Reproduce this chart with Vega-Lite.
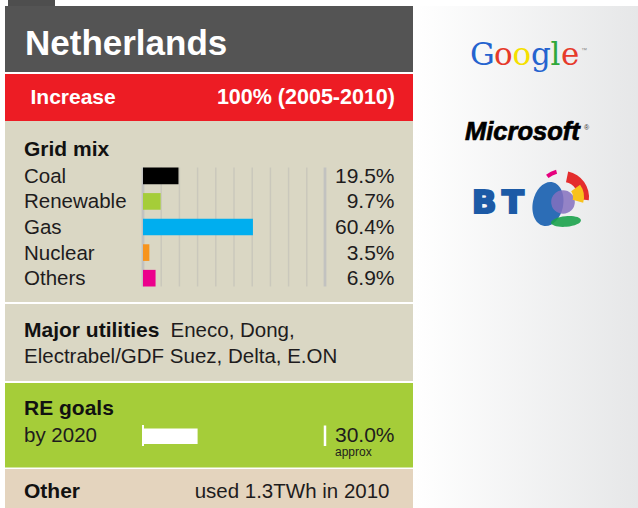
{
  "$schema": "https://vega.github.io/schema/vega-lite/v6.json",
  "width": 638,
  "height": 508,
  "autosize": {"type": "fit", "contains": "padding"},
  "padding": 0,
  "background": "white",
  "config": {"view": {"stroke": null}, "text": {"font": "Liberation Sans", "color": "#1E1C1D", "align": "left", "baseline": "alphabetic", "fontSize": 20.5}},
  "datasets": {
    "mix": [
      {"source": "Coal", "share": 0.195},
      {"source": "Renewable", "share": 0.097},
      {"source": "Gas", "share": 0.604},
      {"source": "Nuclear", "share": 0.035},
      {"source": "Others", "share": 0.069}
    ],
    "ticks": [
      {"tick": 0}, {"tick": 0.1}, {"tick": 0.2}, {"tick": 0.3}, {"tick": 0.4}, {"tick": 0.5},
      {"tick": 0.6}, {"tick": 0.7}, {"tick": 0.8}, {"tick": 0.9}, {"tick": 1}
    ],
    "goal": [{"target": "by 2020", "share": 0.30}],
    "one": [{}]
  },
  "layer": [
    {"data": {"name": "one"}, "mark": {"type": "rect", "color": {"gradient": "linear", "x1": 0, "x2": 1, "y1": 0, "y2": 0, "stops": [{"offset": 0, "color": "#FFFFFF"}, {"offset": 1, "color": "#E6E7E8"}]}},
     "encoding": {"x": {"value": 413}, "x2": {"value": 638}, "y": {"value": 6}, "y2": {"value": 508}}},
    {"data": {"name": "one"}, "mark": {"type": "rect", "color": "#4E4E4E"},
     "encoding": {"x": {"value": 8}, "x2": {"value": 55}, "y": {"value": 0}, "y2": {"value": 6}}},
    {"data": {"name": "one"}, "mark": {"type": "rect", "color": "#545454"},
     "encoding": {"x": {"value": 5}, "x2": {"value": 413}, "y": {"value": 6}, "y2": {"value": 72}}},
    {"data": {"name": "one"}, "mark": {"type": "rect", "color": "#ED1C24"},
     "encoding": {"x": {"value": 5}, "x2": {"value": 413}, "y": {"value": 74}, "y2": {"value": 121}}},
    {"data": {"name": "one"}, "mark": {"type": "rect", "color": "#DAD7C4"},
     "encoding": {"x": {"value": 5}, "x2": {"value": 413}, "y": {"value": 121}, "y2": {"value": 302}}},
    {"data": {"name": "one"}, "mark": {"type": "rect", "color": "#DAD7C4"},
     "encoding": {"x": {"value": 5}, "x2": {"value": 413}, "y": {"value": 304}, "y2": {"value": 381}}},
    {"data": {"name": "one"}, "mark": {"type": "rect", "color": "#A5CD39"},
     "encoding": {"x": {"value": 5}, "x2": {"value": 413}, "y": {"value": 383}, "y2": {"value": 467.5}}},
    {"data": {"name": "one"}, "mark": {"type": "rect", "color": "#E4D4BE"},
     "encoding": {"x": {"value": 5}, "x2": {"value": 413}, "y": {"value": 469}, "y2": {"value": 508}}},

    {"data": {"name": "ticks"}, "mark": {"type": "rule"},
     "encoding": {
       "x": {"field": "tick", "type": "quantitative", "scale": {"domain": [0, 1], "range": [143, 325], "padding": 0, "nice": false, "zero": true}, "axis": null},
       "y": {"value": 167.5}, "y2": {"value": 286.5},
       "strokeWidth": {"condition": {"test": "datum.tick == 0 || datum.tick == 1", "value": 2.8}, "value": 1.5},
       "color": {"condition": {"test": "datum.tick == 0 || datum.tick == 1", "value": "#C2C2C0"}, "value": "#CAC8BC"}
     }},
    {"data": {"name": "mix"}, "mark": {"type": "bar"},
     "encoding": {
       "x": {"field": "share", "type": "quantitative", "axis": null},
       "y": {"field": "source", "type": "nominal", "scale": {"domain": ["Coal", "Renewable", "Gas", "Nuclear", "Others"], "range": [167.5, 286.5], "paddingInner": 0.35, "paddingOuter": 0}, "axis": null},
       "color": {"field": "source", "type": "nominal", "scale": {"domain": ["Coal", "Renewable", "Gas", "Nuclear", "Others"], "range": ["#000000", "#A5CD39", "#00AEEF", "#F7941D", "#EC008C"]}, "legend": null}
     }},
    {"data": {"name": "mix"}, "mark": {"type": "text", "dy": 7},
     "encoding": {
       "x": {"value": 24},
       "y": {"field": "source", "type": "nominal", "axis": null},
       "text": {"field": "source", "type": "nominal"}
     }},
    {"data": {"name": "mix"}, "mark": {"type": "text", "dy": 7, "align": "right", "fontSize": 21},
     "encoding": {
       "x": {"value": 394.5},
       "y": {"field": "source", "type": "nominal", "axis": null},
       "text": {"field": "share", "type": "quantitative", "format": ".1%"}
     }},

    {"data": {"name": "goal"}, "mark": {"type": "bar", "color": "white"},
     "encoding": {
       "x": {"field": "share", "type": "quantitative", "axis": null},
       "x2": {"datum": 0},
       "y": {"value": 428.5}, "y2": {"value": 444}
     }},
    {"data": {"name": "one"}, "mark": {"type": "rule", "color": "white", "strokeWidth": 2},
     "encoding": {"x": {"datum": 0, "type": "quantitative"}, "y": {"value": 425}, "y2": {"value": 446}}},
    {"data": {"name": "one"}, "mark": {"type": "rule", "color": "white", "strokeWidth": 2.5},
     "encoding": {"x": {"datum": 1, "type": "quantitative"}, "y": {"value": 425.5}, "y2": {"value": 446}}},
    {"data": {"name": "goal"}, "mark": {"type": "text"},
     "encoding": {"x": {"value": 24}, "y": {"value": 441.5}, "text": {"field": "target", "type": "nominal"}}},
    {"data": {"name": "goal"}, "mark": {"type": "text", "align": "right", "fontSize": 21},
     "encoding": {"x": {"value": 394.5}, "y": {"value": 441.5}, "text": {"field": "share", "type": "quantitative", "format": ".1%"}}},

    {"data": {"name": "one"}, "mark": {"type": "text", "text": "Netherlands", "fontSize": 35, "fontWeight": "bold", "color": "white"},
     "encoding": {"x": {"value": 25}, "y": {"value": 55}}},
    {"data": {"name": "one"}, "mark": {"type": "text", "text": "Increase", "fontSize": 21, "fontWeight": "bold", "color": "white"},
     "encoding": {"x": {"value": 30.5}, "y": {"value": 103.5}}},
    {"data": {"name": "one"}, "mark": {"type": "text", "text": "100% (2005-2010)", "fontSize": 21.5, "fontWeight": "bold", "color": "white", "align": "right"},
     "encoding": {"x": {"value": 395}, "y": {"value": 103.5}}},
    {"data": {"name": "one"}, "mark": {"type": "text", "text": "Grid mix", "fontSize": 21, "fontWeight": "bold", "color": "#111111"},
     "encoding": {"x": {"value": 24}, "y": {"value": 155.5}}},
    {"data": {"name": "one"}, "mark": {"type": "text", "text": "Major utilities", "fontSize": 21, "fontWeight": "bold", "color": "#111111"},
     "encoding": {"x": {"value": 24}, "y": {"value": 336.5}}},
    {"data": {"name": "one"}, "mark": {"type": "text", "text": "Eneco, Dong,"},
     "encoding": {"x": {"value": 170.5}, "y": {"value": 336.5}}},
    {"data": {"name": "one"}, "mark": {"type": "text", "text": "Electrabel/GDF Suez, Delta, E.ON"},
     "encoding": {"x": {"value": 24}, "y": {"value": 363}}},
    {"data": {"name": "one"}, "mark": {"type": "text", "text": "RE goals", "fontSize": 21, "fontWeight": "bold", "color": "#111111"},
     "encoding": {"x": {"value": 24}, "y": {"value": 415}}},
    {"data": {"name": "one"}, "mark": {"type": "text", "text": "approx", "fontSize": 12},
     "encoding": {"x": {"value": 335}, "y": {"value": 456}}},
    {"data": {"name": "one"}, "mark": {"type": "text", "text": "Other", "fontSize": 21, "fontWeight": "bold", "color": "#111111"},
     "encoding": {"x": {"value": 24}, "y": {"value": 498}}},
    {"data": {"name": "one"}, "mark": {"type": "text", "text": "used 1.3TWh in 2010", "align": "right"},
     "encoding": {"x": {"value": 389.5}, "y": {"value": 498}}},

    {"data": {"name": "one"}, "mark": {"type": "text", "text": "G", "font": "DejaVu Serif", "fontSize": 31, "color": "#2463CF"},
     "encoding": {"x": {"value": 470}, "y": {"value": 65}}},
    {"data": {"name": "one"}, "mark": {"type": "text", "text": "o", "font": "DejaVu Serif", "fontSize": 31, "color": "#E63A2A"},
     "encoding": {"x": {"value": 494}, "y": {"value": 65}}},
    {"data": {"name": "one"}, "mark": {"type": "text", "text": "o", "font": "DejaVu Serif", "fontSize": 31, "color": "#F5E000"},
     "encoding": {"x": {"value": 512.5}, "y": {"value": 65}}},
    {"data": {"name": "one"}, "mark": {"type": "text", "text": "g", "font": "DejaVu Serif", "fontSize": 31, "color": "#2463CF"},
     "encoding": {"x": {"value": 531}, "y": {"value": 65}}},
    {"data": {"name": "one"}, "mark": {"type": "text", "text": "l", "font": "DejaVu Serif", "fontSize": 31, "color": "#2FA83B"},
     "encoding": {"x": {"value": 550.5}, "y": {"value": 65}}},
    {"data": {"name": "one"}, "mark": {"type": "text", "text": "e", "font": "DejaVu Serif", "fontSize": 31, "color": "#E63A2A"},
     "encoding": {"x": {"value": 561}, "y": {"value": 65}}},
    {"data": {"name": "one"}, "mark": {"type": "text", "text": "™", "fontSize": 6, "color": "#888888"},
     "encoding": {"x": {"value": 581}, "y": {"value": 52}}},
    {"data": {"name": "one"}, "mark": {"type": "text", "text": "Microsoft", "fontSize": 25.5, "fontWeight": "bold", "fontStyle": "italic", "color": "#000000", "stroke": "#000000", "strokeWidth": 0.7},
     "encoding": {"x": {"value": 465}, "y": {"value": 140}}},
    {"data": {"name": "one"}, "mark": {"type": "text", "text": "®", "fontSize": 7, "color": "#333333"},
     "encoding": {"x": {"value": 584}, "y": {"value": 130}}},
    {"data": {"name": "one"}, "mark": {"type": "text", "text": "B", "font": "DejaVu Sans", "fontSize": 32, "fontWeight": "bold", "color": "#1C5AA6", "stroke": "#1C5AA6", "strokeWidth": 2.2},
     "encoding": {"x": {"value": 472}, "y": {"value": 213}}},
    {"data": {"name": "one"}, "mark": {"type": "text", "text": "T", "font": "DejaVu Sans", "fontSize": 32, "fontWeight": "bold", "color": "#1C5AA6", "stroke": "#1C5AA6", "strokeWidth": 2.2},
     "encoding": {"x": {"value": 502}, "y": {"value": 213}}},
    {"data": {"name": "one"}, "mark": {"type": "point", "filled": true, "opacity": 1, "shape": "M0,-1 A0.68,1 0 1,1 0,1 A0.68,1 0 1,1 0,-1 Z", "size": 2000, "angle": 12, "color": "#2C6DB6"},
     "encoding": {"x": {"value": 548}, "y": {"value": 204}}},
    {"data": {"name": "one"}, "mark": {"type": "point", "filled": true, "opacity": 0.85, "shape": "circle", "size": 560, "color": "#8470BE"},
     "encoding": {"x": {"value": 563}, "y": {"value": 202}}},
    {"data": {"name": "one"}, "mark": {"type": "point", "filled": true, "opacity": 0.9, "shape": "M-1,0 A1,0.35 0 1,1 1,0 A1,0.35 0 1,1 -1,0 Z", "size": 900, "angle": -5, "color": "#1BA24B"},
     "encoding": {"x": {"value": 566}, "y": {"value": 221.5}}},
    {"data": {"name": "one"}, "mark": {"type": "arc", "innerRadius": 15, "outerRadius": 26, "theta": 0.2, "theta2": 1.7, "color": "#E42D2D"},
     "encoding": {"x": {"value": 563}, "y": {"value": 197}}},
    {"data": {"name": "one"}, "mark": {"type": "arc", "innerRadius": 10, "outerRadius": 21, "theta": 0.95, "theta2": 1.85, "color": "#F8C21D"},
     "encoding": {"x": {"value": 563}, "y": {"value": 197}}},
    {"data": {"name": "one"}, "mark": {"type": "arc", "innerRadius": 24, "outerRadius": 28, "theta": -0.65, "theta2": -0.25, "color": "#E6007E"},
     "encoding": {"x": {"value": 563}, "y": {"value": 197}}}
  ]
}
